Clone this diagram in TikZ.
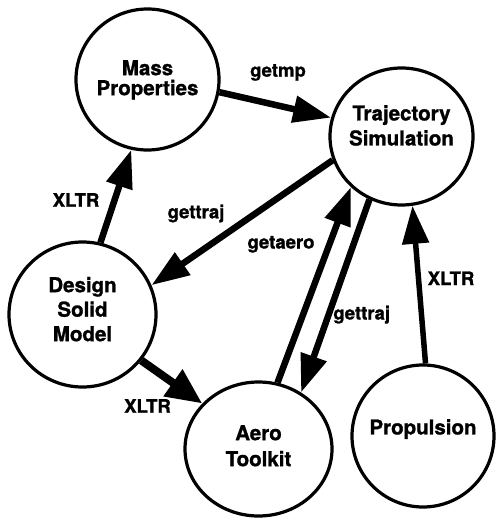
\documentclass[tikz,border=0pt]{standalone}
\usepackage{fontspec}
\setmainfont{TeX Gyre Heros}[BoldFeatures={FakeBold=1.2}]
\usetikzlibrary{arrows.meta,shapes.geometric}
\begin{document}
\begin{tikzpicture}[x=1pt,y=-1pt,
  bub/.style={ellipse,draw,line width=3.2pt,inner sep=0pt},
  ttl/.style={align=center,anchor=north,inner sep=0pt},
  lbl/.style={font=\fontsize{18.5}{20}\selectfont\bfseries,anchor=base,inner sep=0pt},
  arr/.style={line width=6.5pt,-{Triangle[length=38pt,width=26pt]}}]
\useasboundingbox (0,0) rectangle (495,518);
% circles
\node[bub,minimum width=143pt,minimum height=141pt] (mass) at (147.5,79.5) {};
\node[bub,minimum width=143pt,minimum height=137pt] (traj) at (401.5,136.5) {};
\node[bub,minimum width=147pt,minimum height=145pt] (design) at (82.5,314.5) {};
\node[bub,minimum width=147pt,minimum height=134pt] (aero) at (258.5,449) {};
\node[bub,minimum width=142pt,minimum height=142pt] (prop) at (423,436) {};
% titles
\node[ttl,font=\fontsize{20.5}{20}\selectfont\bfseries] (massT) at (147.5,60) {Mass\\Properties};
\node[ttl,font=\fontsize{20.5}{25}\selectfont\bfseries] (trajT) at (401.5,105) {Trajectory\\Simulation};
\node[ttl,font=\fontsize{20.5}{24.5}\selectfont\bfseries] (designT) at (82.5,276.7) {Design\\Solid\\Model};
\node[ttl,font=\fontsize{20.5}{26}\selectfont\bfseries] (aeroT) at (258.5,425) {Aero\\Toolkit};
\node[ttl,font=\fontsize{20.5}{25}\selectfont\bfseries] (propT) at (423,419) {Propulsion};
% connectors
\draw[arr] (mass.-10.8) -- (traj.165.4);
\draw[arr] (design.76.5) -- (mass.257.4);
\draw[arr] (traj.199) -- (design.23);
\draw[arr] (aero.74.5) -- (traj.225.2);
\draw[arr] (traj.243) -- (aero.53.6);
\draw[arr,line width=5.5pt] (prop.88) -- (traj.-81.9);
\draw[line width=8pt,-{Triangle[length=36pt,width=31pt]}] (design.-38.4) -- (aero.141.2);
% labels
\node[lbl] (l1) at (278,76.7) {getmp};
\node[lbl] (l2) at (76,206.7) {XLTR};
\node[lbl] (l3) at (196,218.3) {gettraj};
\node[lbl] (l4) at (281,248.5) {getaero};
\node[lbl] (l5) at (361.7,319.5) {gettraj};
\node[lbl] (l6) at (451,285) {XLTR};
\node[lbl] (l7) at (147.5,412.7) {XLTR};
\end{tikzpicture}
\end{document}
